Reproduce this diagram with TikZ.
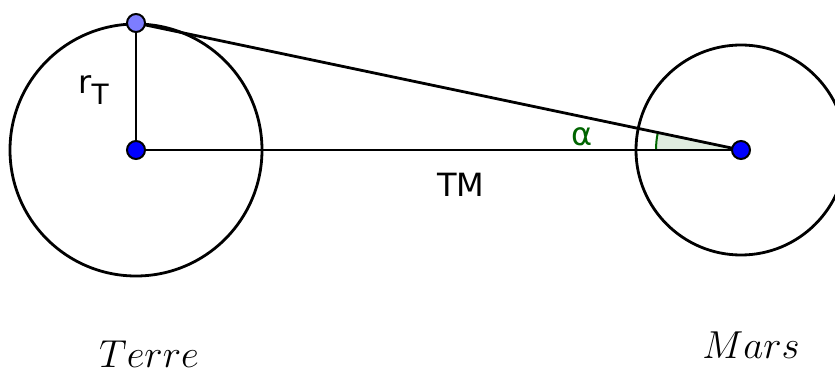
\documentclass[tikz,border=0pt]{standalone}
\usepackage{fix-cm}
\usepackage{fontspec}
\setmainfont{DejaVu Sans}
\begin{document}
\begin{tikzpicture}[x=1pt,y=-1pt,line width=2.8pt,
  ptdot/.style={circle,draw=black,line width=2pt,inner sep=0pt,minimum size=18pt,fill=blue},
  lbl/.style={inner sep=0pt,font=\fontsize{32}{38}\selectfont},
  planet/.style={inner sep=0pt,anchor=base,font=\fontsize{39}{46}\selectfont}]
\useasboundingbox (0,0) rectangle (835,374);
\clip (0,0) rectangle (835,374);
\coordinate (E) at (136,150);
\coordinate (M) at (741,150);
\coordinate (P) at (136,23);
\draw (E) circle (126);
\draw (M) circle (105);
% angle sector
\fill[green!40!black,fill opacity=0.12] (M) -- ++(180:85) arc[start angle=180,end angle=191.86,radius=85] -- cycle;
\draw[green!40!black,line width=2pt] (M) ++(180:85) arc[start angle=180,end angle=191.86,radius=85];
\draw (E) -- (M);
\draw (P) -- (M);
\draw (E) -- (P);
\node[ptdot] (ne) at (E) {};
\node[ptdot] (nm) at (M) {};
\node[ptdot,fill={rgb,255:red,125;green,125;blue,255}] (np) at (P) {};
\node[lbl] (tm) at (461,185) {TM};
\node[lbl,text={rgb,255:red,0;green,100;blue,0}] (al) at (582,137) {α};
\node[lbl,anchor=base west] (r) at (77,94) {r\raisebox{-11pt}{\fontsize{28}{33}\selectfont T}};
\node[planet] (t) at (149,367) {$Terre$};
\node[planet] (m) at (751,358) {$Mars$};
\end{tikzpicture}
\end{document}
